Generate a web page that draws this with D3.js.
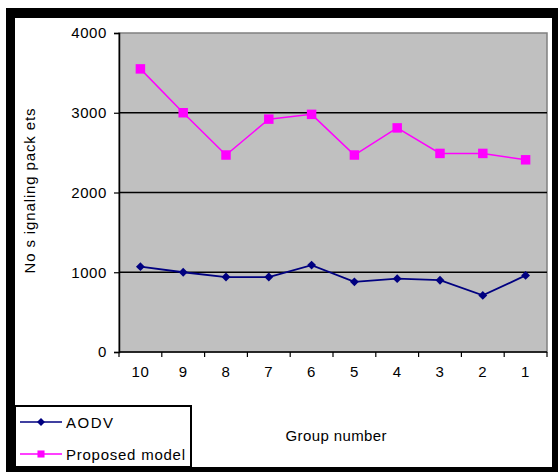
<!DOCTYPE html>
<html>
<head>
<meta charset="utf-8">
<script src="https://cdn.jsdelivr.net/npm/d3@7"></script>
<style>
  html, body { margin: 0; padding: 0; background: #fff; }
  svg { display: block; }
  text { font-family: "Liberation Sans", Arial, sans-serif; fill: #000; }
</style>
</head>
<body>
<svg id="chart" width="560" height="472"></svg>
<script>
// Group numbers, shown in descending order along the x axis
const groups = ["10", "9", "8", "7", "6", "5", "4", "3", "2", "1"];
// Number of signaling packets per group
const aodv = [1070, 1000, 940, 940, 1090, 880, 920, 900, 710, 960];
const proposed = [3550, 3000, 2470, 2920, 2980, 2470, 2810, 2490, 2490, 2410];
const yTicks = [0, 1000, 2000, 3000, 4000];
const seriesNames = ["AODV", "Proposed model"];

const svg = d3.select("#chart");

// Outer black frame
svg.append("rect").attr("x", 6).attr("y", 8).attr("width", 552).attr("height", 464).attr("fill", "#000");
svg.append("rect").attr("x", 15).attr("y", 18).attr("width", 537).attr("height", 449).attr("fill", "#fff");

const plot = { left: 119, right: 547, top: 33, bottom: 352 };

const x = d3.scaleBand().domain(groups).range([plot.left, plot.right]).padding(0);
const y = d3.scaleLinear().domain([0, 4000]).range([plot.bottom, plot.top]);

// Plot area background
svg.append("rect")
  .attr("x", plot.left).attr("y", plot.top)
  .attr("width", plot.right - plot.left).attr("height", plot.bottom - plot.top)
  .attr("fill", "#c0c0c0").attr("stroke", "#808080").attr("stroke-width", 1.5);

// Horizontal gridlines
svg.append("g").selectAll("line")
  .data(yTicks.filter(d => d > 0 && d < 4000))
  .join("line")
  .attr("x1", plot.left).attr("x2", plot.right)
  .attr("y1", d => y(d)).attr("y2", d => y(d))
  .attr("stroke", "#000").attr("stroke-width", 1.5);

// Y axis
const yAxis = svg.append("g")
  .attr("transform", `translate(${plot.left},0)`)
  .call(d3.axisLeft(y).tickValues(yTicks).tickSize(5).tickPadding(7).tickFormat(d3.format("d")));
yAxis.select(".domain").attr("stroke", "#000").attr("stroke-width", 1.5);
yAxis.selectAll(".tick line").attr("stroke", "#000").attr("stroke-width", 1.2);
yAxis.selectAll(".tick text")
  .attr("font-size", 15).attr("letter-spacing", 0.6)
  .style("font-family", "Liberation Sans, Arial, sans-serif").attr("fill", "#000");

// X axis: ticks sit between the categories
const xAxisG = svg.append("g").attr("transform", `translate(0,${plot.bottom})`);
xAxisG.append("line")
  .attr("x1", plot.left).attr("x2", plot.right)
  .attr("stroke", "#000").attr("stroke-width", 1.5);
const boundaries = groups.map(g => x(g)).concat([x(groups[groups.length - 1]) + x.bandwidth()]);
xAxisG.selectAll("line.tk").data(boundaries).join("line")
  .attr("class", "tk")
  .attr("x1", d => d).attr("x2", d => d).attr("y1", 0).attr("y2", 5)
  .attr("stroke", "#000").attr("stroke-width", 1.2);
xAxisG.selectAll("text").data(groups).join("text")
  .attr("x", d => x(d) + x.bandwidth() / 2)
  .attr("y", 25)
  .attr("text-anchor", "middle")
  .attr("font-size", 15).attr("letter-spacing", 0.6)
  .text(d => d);

// Axis titles
svg.append("text")
  .attr("transform", `translate(35,191) rotate(-90)`)
  .attr("text-anchor", "middle")
  .attr("font-size", 15)
  .attr("textLength", 165)
  .text("No s ignaling pack ets");

svg.append("text")
  .attr("x", 336).attr("y", 441)
  .attr("text-anchor", "middle")
  .attr("font-size", 15)
  .attr("textLength", 101)
  .text("Group number");

// Series
const cx = (d, i) => x(groups[i]) + x.bandwidth() / 2;
const line = d3.line().x((d, i) => cx(d, i)).y(d => y(d));

svg.append("path").datum(aodv)
  .attr("d", line).attr("fill", "none")
  .attr("stroke", "#000080").attr("stroke-width", 1.8);
svg.append("path").datum(proposed)
  .attr("d", line).attr("fill", "none")
  .attr("stroke", "#ff00ff").attr("stroke-width", 1.5);

const diamond = d3.symbol().type(d3.symbolDiamond2).size(50);
const square = d3.symbol().type(d3.symbolSquare).size(90);

svg.append("g").selectAll("path").data(aodv).join("path")
  .attr("transform", (d, i) => `translate(${cx(d, i)},${y(d)})`)
  .attr("d", diamond).attr("fill", "#000080");
svg.append("g").selectAll("path").data(proposed).join("path")
  .attr("transform", (d, i) => `translate(${cx(d, i)},${y(d)})`)
  .attr("d", square).attr("fill", "#ff00ff");

// Legend
const legend = svg.append("g");
legend.append("rect")
  .attr("x", 15).attr("y", 406).attr("width", 176).attr("height", 61)
  .attr("fill", "#fff").attr("stroke", "#000").attr("stroke-width", 2);
const legendRows = [
  { name: seriesNames[0], color: "#000080", sym: d3.symbol().type(d3.symbolDiamond2).size(40), y: 422, w: 47 },
  { name: seriesNames[1], color: "#ff00ff", sym: d3.symbol().type(d3.symbolSquare).size(50), y: 454, w: 119 }
];
legendRows.forEach(r => {
  legend.append("line")
    .attr("x1", 20).attr("x2", 62).attr("y1", r.y).attr("y2", r.y)
    .attr("stroke", r.color).attr("stroke-width", 1.5);
  legend.append("path")
    .attr("transform", `translate(41,${r.y})`)
    .attr("d", r.sym).attr("fill", r.color);
  legend.append("text")
    .attr("x", 66).attr("y", r.y + 5.5)
    .attr("font-size", 15)
    .attr("textLength", r.w)
    .text(r.name);
});
</script>
</body>
</html>
